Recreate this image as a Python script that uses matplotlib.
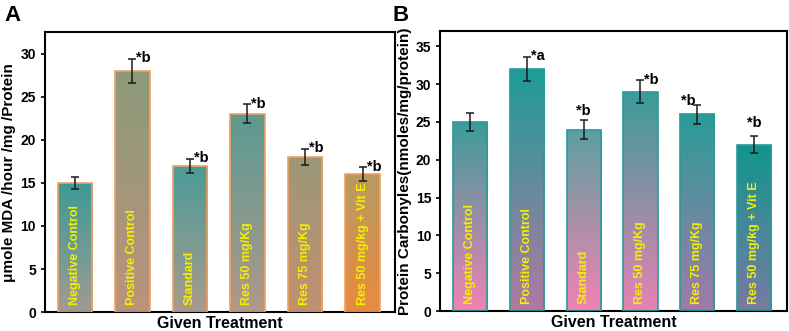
import numpy as np
import matplotlib
matplotlib.use("Agg")
import matplotlib.pyplot as plt
from matplotlib.colors import LinearSegmentedColormap

plt.rcParams['font.family'] = ['Liberation Sans', 'DejaVu Sans']
plt.rcParams['font.weight'] = 'bold'

treatments = ['Negative Control', 'Positive Control', 'Standard',
              'Res 50 mg/Kg', 'Res 75 mg/Kg', 'Res 50 mg/kg + Vit E']

mda_values = [15, 28, 17, 23, 18, 16]
mda_errors = [0.7, 1.4, 0.8, 1.1, 0.9, 0.8]
mda_marks = ['', '*b', '*b', '*b', '*b', '*b']
mda_mark_pos = ['right'] * 6

pc_values = [25, 32, 24, 29, 26, 22]
pc_errors = [1.2, 1.6, 1.2, 1.5, 1.3, 1.1]
pc_marks = ['', '*a', '*b', '*b', '*b', '*b']
pc_mark_pos = ['right', 'right', 'above', 'right', 'left', 'above2']

# gradient colours (top, bottom) for each bar
mda_grad = [('#3a9a98', '#a29a92'), ('#8c9a7a', '#bc937a'), ('#4a9c98', '#aa9a8c'),
            ('#5a9a92', '#b2988a'), ('#9c9878', '#c29070'), ('#b89a62', '#ea8a40')]
pc_grad = [('#3a9c9a', '#f282b2'), ('#1c9c98', '#b07aa2'), ('#5ca0a0', '#f282b2'),
           ('#3a9c9a', '#e682b2'), ('#2a9c98', '#a27aaa'), ('#10968f', '#7a7aa2')]


def draw_panel(ax, values, errors, marks, mark_pos, grads, edge, ylim, yticks, ylabel):
    x = np.arange(len(values))
    bars = ax.bar(x, values, width=0.6, color='none', edgecolor=edge, linewidth=1.2, zorder=3)
    for b, (top, bot) in zip(bars, grads):
        cmap = LinearSegmentedColormap.from_list('g', [bot, top])
        grad = np.linspace(0, 1, 256).reshape(-1, 1)
        x0, y0 = b.get_x(), b.get_y()
        im = ax.imshow(grad, cmap=cmap, origin='lower', aspect='auto',
                       extent=[x0, x0 + b.get_width(), y0, y0 + b.get_height()], zorder=2)
        im.set_clip_path(b)
    ax.errorbar(x, values, yerr=errors, fmt='none', ecolor='#1a1a1a',
                elinewidth=1.1, capsize=3, capthick=1.1, zorder=4)
    for i, (v, e, m, p) in enumerate(zip(values, errors, marks, mark_pos)):
        if not m:
            continue
        top = v + e
        if p == 'right':
            ax.text(i + 0.07, top + 0.1, m, ha='left', va='center', fontsize=10.5, fontweight='bold')
        elif p == 'left':
            ax.text(i - 0.03, top + 0.4, m, ha='right', va='center', fontsize=10.5, fontweight='bold')
        elif p == 'above':
            ax.text(i, top + 1.2, m, ha='center', va='center', fontsize=10.5, fontweight='bold')
        else:
            ax.text(i, top + 1.8, m, ha='center', va='center', fontsize=10.5, fontweight='bold')
    for i, name in enumerate(treatments):
        ax.text(i, ylim[1] * 0.025, name, rotation=90, ha='center', va='bottom',
                color='#f2f000', fontsize=9, fontweight='bold', zorder=5)
    ax.set_xlim(-0.52, 5.57)
    ax.set_ylim(*ylim)
    ax.set_yticks(yticks)
    ax.set_xticks([])
    ax.tick_params(axis='y', labelsize=10, width=1.2, length=3)
    for lbl in ax.get_yticklabels():
        lbl.set_fontweight('bold')
    for s in ax.spines.values():
        s.set_linewidth(1.5)
    ax.set_ylabel(ylabel, fontsize=11, fontweight='bold', labelpad=3)
    ax.set_xlabel('Given Treatment', fontsize=11.5, fontweight='bold', labelpad=3)


fig = plt.figure(figsize=(7.89, 3.31), dpi=100)
axA = fig.add_axes([0.057, 0.057, 0.444, 0.846])
axB = fig.add_axes([0.558, 0.060, 0.439, 0.846])

draw_panel(axA, mda_values, mda_errors, mda_marks, mda_mark_pos, mda_grad, '#f0a060',
           (0, 32.5), [0, 5, 10, 15, 20, 25, 30], '\u03bcmole MDA /hour /mg /Protein')
draw_panel(axB, pc_values, pc_errors, pc_marks, pc_mark_pos, pc_grad, '#2a9a98',
           (0, 37), [0, 5, 10, 15, 20, 25, 30, 35], 'Protein Carbonyles(nmoles/mg/protein)')

fig.text(0.005, 0.985, 'A', fontsize=16, fontweight='bold', va='top', ha='left')
fig.text(0.497, 0.985, 'B', fontsize=16, fontweight='bold', va='top', ha='left')

fig.savefig('out.png', dpi=100)
